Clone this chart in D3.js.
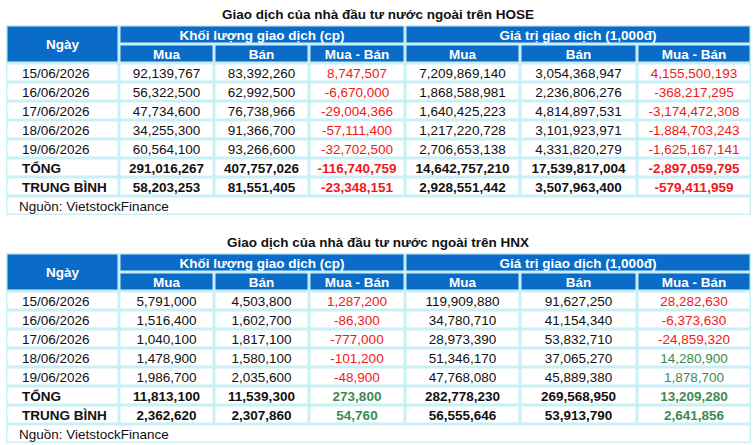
<!DOCTYPE html>
<html><head><meta charset="utf-8">
<script src="https://cdn.jsdelivr.net/npm/d3@7"></script>
<style>body{margin:0;background:#fff}svg{display:block;font-family:"Liberation Sans",Arial,sans-serif}</style>
</head><body><svg id="c" width="756" height="445"></svg>
<script>
const hoseTitle = "Giao dịch của nhà đầu tư nước ngoài trên HOSE";
const hnxTitle = "Giao dịch của nhà đầu tư nước ngoài trên HNX";
const dates = ["15/06/2026","16/06/2026","17/06/2026","18/06/2026","19/06/2026"];
const rowLabels = [...dates, "TỔNG", "TRUNG BÌNH"];
const hoseVolBuy  = [92139767,56322500,47734600,34255300,60564100,291016267,58203253];
const hoseVolSell = [83392260,62992500,76738966,91366700,93266600,407757026,81551405];
const hoseVolNet  = [8747507,-6670000,-29004366,-57111400,-32702500,-116740759,-23348151];
const hoseValBuy  = [7209869140,1868588981,1640425223,1217220728,2706653138,14642757210,2928551442];
const hoseValSell = [3054368947,2236806276,4814897531,3101923971,4331820279,17539817004,3507963400];
const hoseValNet  = [4155500193,-368217295,-3174472308,-1884703243,-1625167141,-2897059795,-579411959];
const hnxVolBuy  = [5791000,1516400,1040100,1478900,1986700,11813100,2362620];
const hnxVolSell = [4503800,1602700,1817100,1580100,2035600,11539300,2307860];
const hnxVolNet  = [1287200,-86300,-777000,-101200,-48900,273800,54760];
const hnxValBuy  = [119909880,34780710,28973390,51346170,47768080,282778230,56555646];
const hnxValSell = [91627250,41154340,53832710,37065270,45889380,269568950,53913790];
const hnxValNet  = [28282630,-6373630,-24859320,14280900,1878700,13209280,2641856];
// colour flags as printed in the source (r = red, g = green)
const hoseVolNetColor = ["r","r","r","r","r","r","r"];
const hoseValNetColor = ["r","r","r","r","r","r","r"];
const hnxVolNetColor  = ["r","r","r","r","r","g","g"];
const hnxValNetColor  = ["r","r","r","g","g","g","g"];
const groupLabels = ["Khối lượng giao dịch (cp)", "Giá trị giao dịch (1,000đ)"];
const subLabels = ["Mua","Bán","Mua - Bán"];
const source = "Nguồn: VietstockFinance";

const svg = d3.select("#c");
const colEdges = [6,119,214,309,405,520,637,751];
const fmt = v => d3.format(",")(v).replace("\u2212","-");
const BLUE = "#0A6CC8", BORDER = "#C8F0F6", RED = "#F01818", GREEN = "#3C8A50";

function table(top, title, cols, colorFlags) {
  svg.append("text").attr("x",378).attr("y",top-6).attr("text-anchor","middle")
    .attr("font-size",13.5).attr("font-weight","bold").attr("fill","#111").text(title);
  const y = d3.scaleLinear().domain([0,1]).range([top, top+19]);
  const g = svg.append("g");
  g.append("rect").attr("x",colEdges[0]).attr("y",top).attr("width",colEdges[7]-colEdges[0])
    .attr("height",y(10)-top).attr("fill",BORDER);
  function cell(c0,c1,r0,r1,fill){
    g.append("rect").attr("x",colEdges[c0]+1.5).attr("y",y(r0)+1.5)
      .attr("width",colEdges[c1]-colEdges[c0]-3).attr("height",y(r1)-y(r0)-3).attr("fill",fill);
  }
  function txt(x,r,s,opt={}){
    g.append("text").attr("x",x).attr("y",y(r)+14.5).attr("text-anchor",opt.anchor||"middle")
      .attr("font-size",opt.size||13.5).attr("font-weight",opt.bold?"bold":"normal")
      .attr("fill",opt.fill||"#111").text(s);
  }
  cell(0,1,0,2,BLUE); txt((colEdges[0]+colEdges[1])/2,0.5,"Ngày",{fill:"#fff",bold:true});
  cell(1,4,0,1,BLUE); txt((colEdges[1]+colEdges[4])/2,0,groupLabels[0],{fill:"#fff",bold:true});
  cell(4,7,0,1,BLUE); txt((colEdges[4]+colEdges[7])/2,0,groupLabels[1],{fill:"#fff",bold:true});
  for(let c=1;c<7;c++){ cell(c,c+1,1,2,BLUE); txt((colEdges[c]+colEdges[c+1])/2,1,subLabels[(c-1)%3],{fill:"#fff",bold:true}); }
  rowLabels.forEach((lab,i)=>{
    const r=i+2, bold=i>=5;
    cell(0,1,r,r+1,"#fff");
    txt(colEdges[0]+16,r,lab,{anchor:"start",bold});
    cols.forEach((arr,c)=>{
      cell(c+1,c+2,r,r+1,"#fff");
      let fill="#111";
      if(c===2) fill = colorFlags[0][i]==="g"?GREEN:RED;
      if(c===5) fill = colorFlags[1][i]==="g"?GREEN:RED;
      txt((colEdges[c+1]+colEdges[c+2])/2,r,fmt(arr[i]),{bold,fill});
    });
  });
  cell(0,7,9,10,"#fff");
  txt(colEdges[0]+13,9,source,{anchor:"start"});
}
table(25,hoseTitle,[hoseVolBuy,hoseVolSell,hoseVolNet,hoseValBuy,hoseValSell,hoseValNet],[hoseVolNetColor,hoseValNetColor]);
table(253,hnxTitle,[hnxVolBuy,hnxVolSell,hnxVolNet,hnxValBuy,hnxValSell,hnxValNet],[hnxVolNetColor,hnxValNetColor]);
</script></body></html>
